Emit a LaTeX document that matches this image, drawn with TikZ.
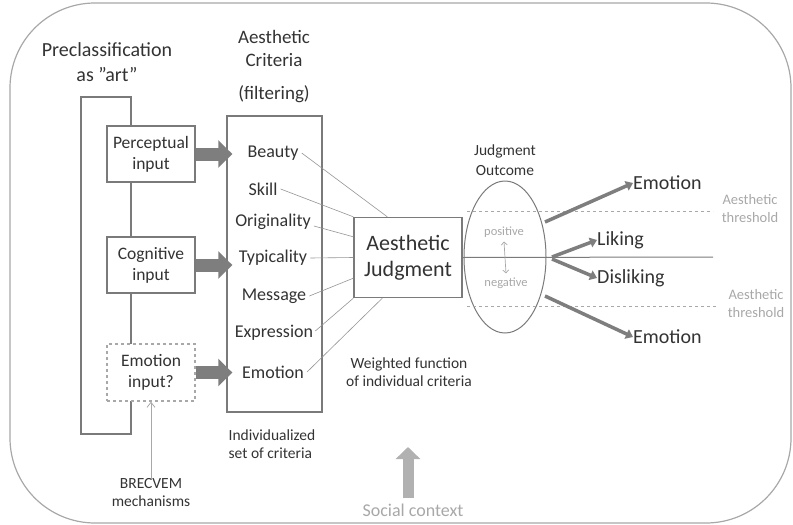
\documentclass[tikz,border=0pt]{standalone}
\usepackage{fontspec}
\setmainfont{Carlito}
\usetikzlibrary{shapes.geometric,arrows.meta,calc}
\definecolor{txt}{HTML}{333333}
\definecolor{edge}{HTML}{7A7A7A}
\definecolor{light}{HTML}{A8A8A8}
\definecolor{fat}{HTML}{7E7E7E}
\tikzset{
  box/.style={draw=edge, line width=1.4pt, fill=white, text=txt, align=center, inner sep=0pt},
  lbl/.style={text=txt, align=center, inner sep=0pt},
  fatarrow/.style={draw=fat, line width=13pt, -{Triangle[length=14pt,width=27pt]}, fat},
  thin/.style={draw=edge!80, line width=0.6pt},
  outarrow/.style={draw=fat, line width=3.5pt, -{Triangle[length=7pt,width=10pt]}},
  graytxt/.style={text=light, align=center, inner sep=0pt},
  crit/.style={lbl, font=\fontsize{18}{21}\selectfont},
}
\begin{document}
\begin{tikzpicture}[x=1pt,y=-1pt]
\useasboundingbox (0,0) rectangle (793,525);
% outer frame
\draw[draw=light, line width=1.2pt, rounded corners=85pt] (10,3) rectangle (791,523);

% preclassification
\node[lbl, font=\fontsize{20}{25}\selectfont] (precl) at (107,62) {Preclassification\\as ”art”};
\coordinate (brtl) at (81,97);
\coordinate (brbr) at (131,434);
\draw[draw=edge, line width=1.2pt] (brtl) rectangle (brbr);

\node[box, minimum width=88pt, minimum height=56pt, font=\fontsize{17.5}{21}\selectfont] (perc) at (151,154) {Perceptual\\input};
\node[box, minimum width=88pt, minimum height=56pt, font=\fontsize{17.5}{21}\selectfont] (cog) at (151,265) {Cognitive\\input};
\node[box, dashed, draw=light, minimum width=88pt, minimum height=57pt, font=\fontsize{17.5}{21}\selectfont] (emo) at (151,372.5) {Emotion\\input?};

% criteria
\node[lbl, font=\fontsize{19}{23}\selectfont] (crittitle) at (274,67) {Aesthetic\\Criteria\\[10pt](filtering)};
\node[box, minimum width=95pt, minimum height=296pt] (crit) at (274.5,264) {};
\node[crit] (c1) at (273,153) {Beauty};
\node[crit] (c2) at (263,189) {Skill};
\node[crit] (c3) at (273,222) {Originality};
\node[crit] (c4) at (273,258) {Typicality};
\node[crit] (c5) at (274,296) {Message};
\node[crit] (c6) at (274,333) {Expression};
\node[crit] (c7) at (273,372) {Emotion};
\node[lbl, font=\fontsize{15.5}{18}\selectfont, align=left] (indiv) at (272,444) {Individualized\\set of criteria};

% fat arrows
\draw[fatarrow] (perc.east) -- ($(perc.east -| crit.west)+(6,0)$);
\draw[fatarrow] (cog.east) -- ($(cog.east -| crit.west)+(6,0)$);
\draw[fatarrow] (emo.east) -- ($(emo.east -| crit.west)+(6,0)$);

% judgment
\node[box, minimum width=108pt, minimum height=80pt, font=\fontsize{22}{26}\selectfont] (judg) at (408,257.5) {Aesthetic\\Judgment};
\draw[thin] ($(c1.east)+(3,0)$) -- ($(judg.north west)+(34,0)$);
\draw[thin] ($(c2.east)+(3,0)$) -- (judg.north west);
\draw[thin] ($(c3.east)+(3,4)$) -- ($(judg.north west)+(0,20)$);
\draw[thin] ($(c4.east)+(3,0)$) -- (judg.west);
\draw[thin] ($(c5.east)+(3,0)$) -- ($(judg.south west)+(0,-20)$);
\draw[thin] ($(c6.east)+(2,-2)$) -- (judg.south west);
\draw[thin] ($(c7.east)+(3,0)$) -- ($(judg.south west)+(29,0)$);
\node[lbl, font=\fontsize{15.5}{18}\selectfont] (weighted) at (409,372) {Weighted function\\of individual criteria};

% outcome
\node[lbl, font=\fontsize{15.5}{20}\selectfont] (outtitle) at (505,160) {Judgment\\Outcome};
\node[draw=edge, line width=1pt, ellipse, minimum width=82pt, minimum height=152pt, inner sep=0pt] (ell) at (505,257) {};
\coordinate (mid) at (713,257);
\draw[draw=edge, line width=1pt] (judg.east) -- (mid);
\coordinate (up1) at (467,211);
\coordinate (up2) at (713,211);
\coordinate (lo1) at (467,306);
\coordinate (lo2) at (717,306);
\draw[draw=light, dashed, line width=0.8pt] (up1) -- (up2);
\draw[draw=light, dashed, line width=0.8pt] (lo1) -- (lo2);
\node[graytxt, font=\fontsize{12.5}{15}\selectfont] (pos) at (504,232) {positive};
\node[graytxt, font=\fontsize{12.5}{15}\selectfont] (neg) at (506,283) {negative};
\draw[draw=light, line width=0.7pt, {Straight Barb[length=3pt]}-{Straight Barb[length=3pt]}] ($(pos.south)+(0,4)$) -- ($(neg.north)+(0,-4)$);

% outcomes
\node[lbl, anchor=west, font=\fontsize{20}{24}\selectfont] (e1) at (633,183) {Emotion};
\node[lbl, anchor=west, font=\fontsize{20}{24}\selectfont] (lik) at (597,240) {Liking};
\node[lbl, anchor=west, font=\fontsize{20}{24}\selectfont] (dis) at (597,278) {Disliking};
\node[lbl, anchor=west, font=\fontsize{20}{24}\selectfont] (e2) at (633,337) {Emotion};
\coordinate (s1) at (545,222);
\coordinate (s2) at (552,257);
\coordinate (s3) at (552,259);
\coordinate (s4) at (545,296);
\draw[outarrow] (s1) -- (e1.west);
\draw[outarrow] (s2) -- (lik.west);
\draw[outarrow] (s3) -- (dis.west);
\draw[outarrow] (s4) -- (e2.west);
\node[graytxt, font=\fontsize{14.5}{18}\selectfont] (th1) at (750,209) {Aesthetic\\threshold};
\node[graytxt, font=\fontsize{14.5}{18}\selectfont] (th2) at (756,304) {Aesthetic\\threshold};

% bottom
\node[lbl, font=\fontsize{15.5}{18}\selectfont] (brec) at (151,493) {BRECVEM\\mechanisms};
\draw[draw=light, line width=0.8pt, -{Straight Barb[length=5pt,width=8pt]}] (brec.north) -- (emo.south);
\node[graytxt, font=\fontsize{18}{21}\selectfont] (soc) at (413,510) {Social context};
\coordinate (socup) at (408,447);
\draw[draw=light!90, line width=11pt, -{Triangle[length=12pt,width=24pt]}] ($(soc.north)+(-5,-5)$) -- (socup);
\end{tikzpicture}
\end{document}
